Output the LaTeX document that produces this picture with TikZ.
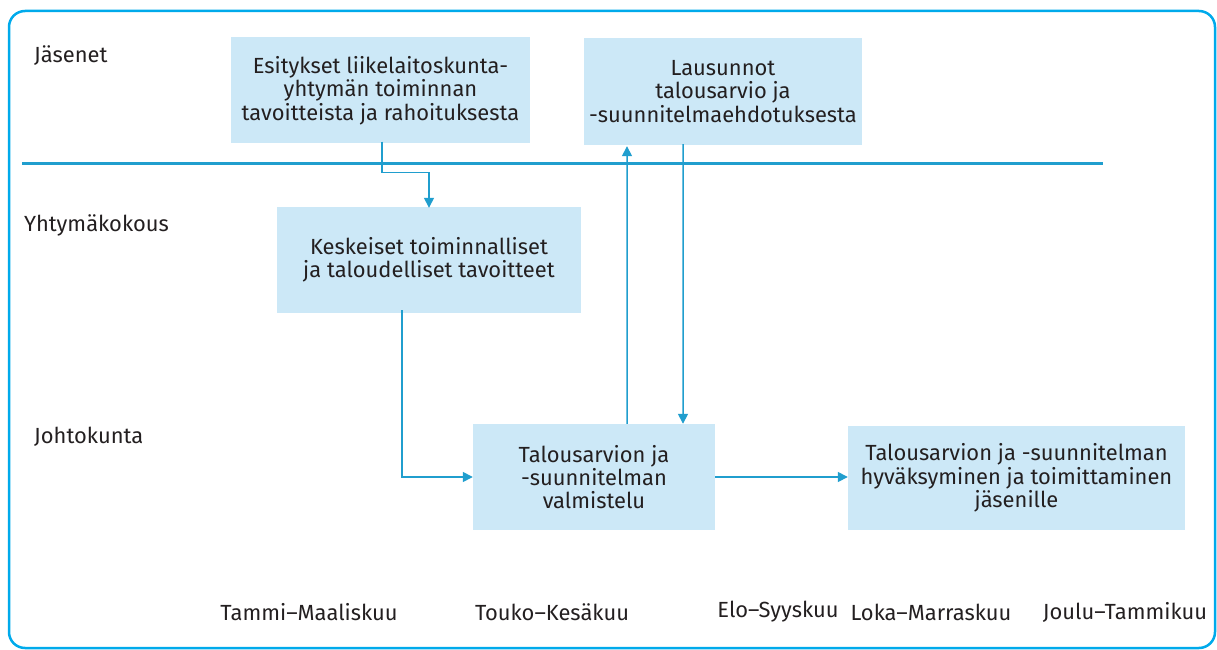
\documentclass[tikz,border=0pt]{standalone}
\usepackage{fontspec}
\setmainfont{Fira Sans}
\usetikzlibrary{arrows.meta}
\definecolor{frameblue}{RGB}{0,170,235}
\definecolor{lineblue}{RGB}{32,158,206}
\definecolor{boxfill}{RGB}{204,232,247}
\definecolor{ink}{RGB}{35,31,32}
\tikzset{
  stepbox/.style={fill=boxfill, draw=none, inner sep=0pt, align=center,
    font=\fontsize{22}{23.5}\selectfont, text=ink},
  rowlabel/.style={anchor=west, font=\fontsize{22}{24}\selectfont, text=ink, inner sep=0pt},
  period/.style={font=\fontsize{22}{24}\selectfont, text=ink, inner sep=0pt},
  flow/.style={draw=lineblue, line width=1.5bp, -{Triangle[length=10bp,width=10bp]}},
}
\begin{document}
\begin{tikzpicture}[x=1bp,y=-1bp]
\useasboundingbox (0,0) rectangle (1217,650);
% outer frame
\draw[frameblue, line width=2.5bp, rounded corners=16bp] (9,11) rectangle (1215,648);
% divider between the members row and the rest
\draw[lineblue, line width=3bp] (22,164) -- (1103,164);

% row labels
\node[rowlabel] (jas) at (34,56) {Jäsenet};
\node[rowlabel] (yht) at (24,225) {Yhtymäkokous};
\node[rowlabel] (joh) at (34,437) {Johtokunta};

% process boxes
\node[stepbox, minimum width=299bp, minimum height=106bp] (esit) at (380.5,90.5)
  {Esitykset liikelaitoskunta-\\yhtymän toiminnan\\tavoitteista ja rahoituksesta};
\node[stepbox, minimum width=278bp, minimum height=107bp] (laus) at (723,91.5)
  {Lausunnot\\talousarvio ja\\-suunnitelmaehdotuksesta};
\node[stepbox, minimum width=304bp, minimum height=106bp] (kesk) at (429,260)
  {Keskeiset toiminnalliset\\ja taloudelliset tavoitteet};
\node[stepbox, minimum width=242bp, minimum height=106bp] (valm) at (594,477)
  {Talousarvion ja\\-suunnitelman\\valmistelu};
\node[stepbox, minimum width=337bp, minimum height=104bp] (hyva) at (1016.5,478)
  {Talousarvion ja -suunnitelman\\hyväksyminen ja toimittaminen\\jäsenille};

% connectors
\draw[flow] ([xshift=1.5bp,yshift=2bp]esit.south) -- ++(0,31) -| ([yshift=-1bp]kesk.north);
\draw[flow] ([xshift=-27bp,yshift=3bp]kesk.south) |- (valm.west);
\draw[flow] ([xshift=33bp]valm.north) -- ([xshift=-96bp,yshift=-1bp]laus.south);
\draw[flow] ([xshift=-40bp,yshift=1bp]laus.south) -- ([xshift=89bp]valm.north);
\draw[flow] (valm.east) -- (valm.east -| hyva.west);

% periods
\node[period] (p1) at (309,612) {Tammi–Maaliskuu};
\node[period] (p2) at (552,612) {Touko–Kesäkuu};
\node[period] (p3) at (778,612) {Elo–Syyskuu};
\node[period] (p4) at (931,612) {Loka–Marraskuu};
\node[period] (p5) at (1125,612) {Joulu–Tammikuu};
\end{tikzpicture}
\end{document}
